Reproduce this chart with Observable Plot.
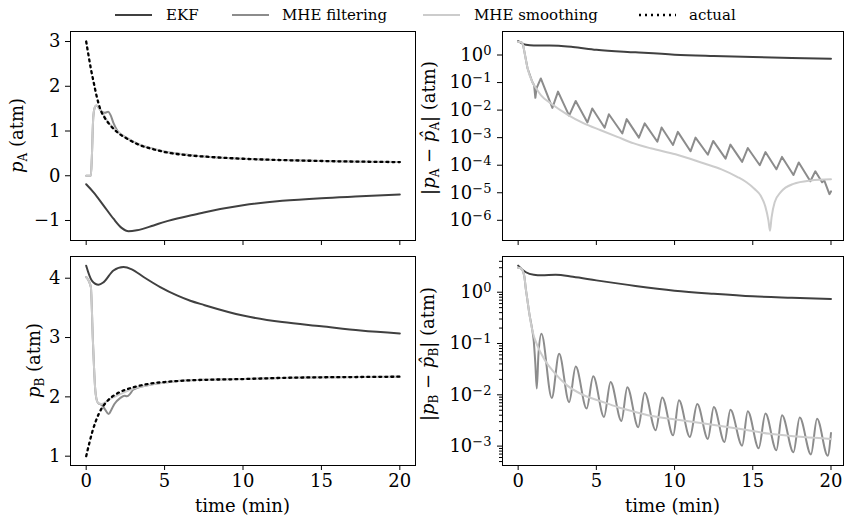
<!DOCTYPE html>
<html><head><meta charset="utf-8">
<script src="https://cdn.jsdelivr.net/npm/d3@7"></script>
<script src="https://cdn.jsdelivr.net/npm/@observablehq/plot@0.6"></script>
<style>
html,body{margin:0;padding:0;background:#fff;}
#root{position:relative;width:845px;height:517px;overflow:hidden;background:#fff;font-family:"DejaVu Serif",serif;}
</style></head>
<body><div id="root"></div>
<script>
// ---------- legend / series names ----------
const seriesNames = ["EKF", "MHE filtering", "MHE smoothing", "actual"];
const xTicks = [0, 5, 10, 15, 20];
const pATicks = [-1, 0, 1, 2, 3];
const pBTicks = [1, 2, 3, 4];
const eATicks = [1e0, 1e-1, 1e-2, 1e-3, 1e-4, 1e-5, 1e-6];
const eBTicks = [1e0, 1e-1, 1e-2, 1e-3];

// ---------- p_A (top left) ----------
const pA_actual_t = [0, 0.15, 0.3, 0.47, 0.68, 0.89, 1.21, 1.53, 1.96, 2.6, 3.45, 4.3, 5.15, 6.43, 7.5, 10, 12.5, 15, 17.5, 20];
const pA_actual   = [3.0, 2.69, 2.39, 2.10, 1.76, 1.50, 1.28, 1.13, 0.98, 0.83, 0.68, 0.59, 0.52, 0.46, 0.43, 0.38, 0.35, 0.33, 0.315, 0.305];
const pA_ekf_t = [0, 0.47, 1.1, 1.74, 2.28, 2.7, 3.23, 4.3, 5, 6.64, 7.5, 10, 12.5, 15, 17.5, 20];
const pA_ekf   = [-0.19, -0.37, -0.66, -0.96, -1.17, -1.24, -1.22, -1.11, -1.03, -0.89, -0.82, -0.66, -0.56, -0.5, -0.46, -0.42];
const pA_smooth_t = [0, 0.3, 0.36, 0.45, 0.55, 0.65, 0.8, 1.0, 1.3, 1.6, 2.0, 2.6, 3.45, 4.3, 5.15, 6.43, 7.5, 10, 12.5, 15, 17.5, 20];
const pA_smooth   = [0, 0, 0.4, 1.3, 1.53, 1.57, 1.52, 1.43, 1.25, 1.12, 0.99, 0.84, 0.69, 0.6, 0.53, 0.47, 0.43, 0.38, 0.35, 0.33, 0.315, 0.305];
const pA_filt_t = [0, 0.3, 0.36, 0.45, 0.55, 0.65, 0.8, 1.0, 1.2, 1.4, 1.55, 1.75, 2.0, 2.6, 3.45, 4.3, 5.15, 6.43, 7.5, 10, 12.5, 15, 17.5, 20];
const pA_filt   = [0, 0, 0.4, 1.3, 1.53, 1.57, 1.52, 1.43, 1.41, 1.43, 1.36, 1.17, 1.0, 0.84, 0.69, 0.6, 0.53, 0.47, 0.43, 0.38, 0.35, 0.33, 0.315, 0.305];

// ---------- p_B (bottom left) ----------
const pB_actual_t = [0, 0.2, 0.4, 0.6, 0.8, 1.0, 1.25, 1.5, 2, 2.5, 3, 4, 5, 6, 8, 10, 12.5, 15, 17.5, 20];
const pB_actual   = [1.0, 1.22, 1.42, 1.58, 1.71, 1.81, 1.9, 1.97, 2.06, 2.12, 2.16, 2.22, 2.25, 2.27, 2.29, 2.30, 2.32, 2.33, 2.335, 2.34];
const pB_ekf_t = [0, 0.36, 0.79, 1.1, 1.74, 2.38, 2.91, 3.66, 4.72, 5.79, 6.64, 7.5, 10, 12.5, 15, 17.5, 20];
const pB_ekf   = [4.21, 3.96, 3.89, 3.93, 4.13, 4.19, 4.15, 4.02, 3.85, 3.71, 3.62, 3.55, 3.37, 3.26, 3.19, 3.12, 3.07];
const pB_smooth_t = [0, 0.3, 0.36, 0.42, 0.5, 0.57, 0.65, 0.75, 1.0, 1.5, 2.2, 3.0, 4, 5, 6, 8, 10, 12.5, 15, 17.5, 20];
const pB_smooth   = [4.02, 3.85, 3.5, 3.0, 2.5, 2.15, 1.97, 1.9, 1.88, 1.96, 2.05, 2.14, 2.2, 2.24, 2.27, 2.29, 2.30, 2.32, 2.33, 2.335, 2.34];
const pB_filt_t = [0, 0.3, 0.36, 0.42, 0.5, 0.57, 0.65, 0.75, 1.0, 1.2, 1.43, 1.6, 1.8, 2.17, 2.45, 2.6, 2.8, 3.0, 4, 5, 6, 8, 10, 12.5, 15, 17.5, 20];
const pB_filt   = [4.02, 3.85, 3.5, 3.0, 2.5, 2.15, 1.97, 1.9, 1.86, 1.79, 1.71, 1.78, 1.88, 1.98, 2.02, 2.01, 2.05, 2.12, 2.2, 2.24, 2.27, 2.29, 2.30, 2.32, 2.33, 2.335, 2.34];

// ---------- |p_A - p̂_A| (top right) ----------
const eA_ekf_t = [0, 0.5, 1.0, 1.5, 2.0, 2.6, 3.5, 5, 7.5, 10, 12.5, 15, 17.5, 20];
const eA_ekf   = [3.2, 2.35, 2.2, 2.2, 2.2, 2.15, 1.95, 1.55, 1.25, 1.03, 0.92, 0.84, 0.78, 0.73];
const eA_smooth_t = [0, 0.2, 0.3, 0.38, 0.6, 0.9, 1.2, 1.45, 2.1, 3.15, 4.2, 5.28, 6.34, 7.4, 8.47, 10.06, 11.9, 13.0, 14.0, 14.6, 15.1, 15.5, 15.8, 16.0, 16.1, 16.2, 16.4, 16.8, 17.6, 18.7, 20];
const eA_smooth   = [3.0, 2.9, 2.5, 1.5, 0.33, 0.107, 0.056, 0.035, 0.0174, 0.0069, 0.0033, 0.00186, 0.00107, 6.2e-4, 4.1e-4, 2.5e-4, 1.15e-4, 7.1e-5, 3.8e-5, 2.4e-5, 1.4e-5, 7.9e-6, 3.2e-6, 1.0e-6, 4.2e-7, 1.26e-6, 4.5e-6, 1.07e-5, 2.1e-5, 2.8e-5, 3.1e-5];
const eA_filt_t = [0, 0.2, 0.3, 0.38, 0.6, 0.9, 1.02, 1.1, 1.18, 1.45, 2.19, 2.55, 3.26, 3.68, 4.43, 4.74, 5.53, 5.8, 6.66, 6.94, 7.72, 8.09, 8.9, 9.17, 9.9, 10.21, 11.02, 11.34, 12.13, 12.47, 13.26, 13.57, 14.32, 14.68, 15.45, 15.81, 16.51, 16.87, 17.6, 17.94, 18.68, 19.0, 19.43, 19.57, 19.9, 20];
const eA_filt   = [3.0, 2.9, 2.5, 1.5, 0.33, 0.107, 0.08, 0.028, 0.063, 0.141, 0.012, 0.047, 0.0063, 0.0214, 0.00355, 0.0115, 0.0023, 0.0071, 0.00141, 0.0047, 0.001, 0.0033, 7.1e-4, 0.00234, 5.4e-4, 0.00162, 3.2e-4, 0.001, 2.4e-4, 7.6e-4, 1.74e-4, 5.6e-4, 1.32e-4, 4.2e-4, 1.0e-4, 3.0e-4, 7.1e-5, 2.0e-4, 4.4e-5, 1.26e-4, 2.6e-5, 6.0e-5, 2.4e-5, 2.8e-5, 8.9e-6, 1.12e-5];

// ---------- |p_B - p̂_B| (bottom right) ----------
const eB_ekf_t = [0, 0.5, 1.0, 1.5, 2.4, 3.5, 5, 7.5, 10, 12.5, 15, 17.5, 20];
const eB_ekf   = [3.3, 2.45, 2.19, 2.14, 2.19, 2.0, 1.7, 1.32, 1.07, 0.93, 0.83, 0.78, 0.74];
const eB_smooth_t = [0, 0.2, 0.3, 0.4, 0.49, 0.6, 0.7, 0.91, 1.23, 1.66, 2.3, 3.15, 4.2, 5.28, 6.34, 7.4, 8.47, 10.06, 11.9, 14.0, 16.1, 18.25, 20];
const eB_smooth   = [3.0, 2.9, 2.6, 2.0, 1.16, 0.68, 0.41, 0.178, 0.091, 0.05, 0.0275, 0.0151, 0.0098, 0.0075, 0.0058, 0.0047, 0.0039, 0.0033, 0.00275, 0.0022, 0.00174, 0.0015, 0.00138];
const eB_filt_t = [0, 0.2, 0.3, 0.4, 0.49, 0.6, 0.7, 0.91, 1.0, 1.1, 1.19, 1.3, 1.49, 2.15, 2.62, 3.26, 3.68, 4.38, 4.8, 5.49, 5.91, 6.6, 6.98, 7.68, 8.09, 8.79, 9.21, 9.91, 10.28, 10.98, 11.45, 12.13, 12.51, 13.19, 13.57, 14.32, 14.68, 15.38, 15.81, 16.51, 16.87, 17.6, 18.0, 18.72, 19.11, 19.79, 20];
const eB_filt   = [3.0, 2.9, 2.6, 2.0, 1.16, 0.68, 0.41, 0.178, 0.11, 0.04, 0.0132, 0.063, 0.155, 0.0087, 0.063, 0.0072, 0.0355, 0.0054, 0.0229, 0.0037, 0.0178, 0.0031, 0.0141, 0.00234, 0.011, 0.00204, 0.0089, 0.00162, 0.0078, 0.00151, 0.0066, 0.00138, 0.0058, 0.0012, 0.0051, 0.00102, 0.0048, 0.00091, 0.0043, 0.00083, 0.004, 0.00076, 0.0036, 0.00069, 0.0034, 0.00065, 0.0018];

// ---------- styling ----------
const FONT = "DejaVu Serif";
const COLORS = {"EKF": "#404040", "MHE filtering": "#8c8c8c", "MHE smoothing": "#cccccc", "actual": "#000000"};
const DOTS = "2,4";
const root = document.getElementById("root");

const rows = (t, v) => t.map((x, i) => ({t: x, v: v[i]}));
const logFmt = d => "10^" + String(Math.round(Math.log10(d))).replace("-", "\u2212");
const linFmt = d => d < 0 ? "\u2212" + Math.abs(d) : String(d);

function lineMark(t, v, name, curve) {
  const o = {x: "t", y: "v", stroke: COLORS[name], strokeWidth: 2, curve: curve || "monotone-x"};
  if (name === "actual") { o.strokeDasharray = DOTS; o.strokeWidth = 2.3; }
  return Plot.line(rows(t, v), o);
}

function panel(o) {
  const marks = [
    Plot.axisX({ticks: xTicks, tickSize: 5, tickPadding: 4, tickFormat: o.xLabels ? d => String(d) : () => "", label: null}),
    Plot.axisY({ticks: o.yTicks, tickSize: 5, tickPadding: o.tickPad, tickFormat: o.yFmt, label: null}),
  ];
  if (o.minor) marks.push(Plot.axisY({ticks: o.minor, tickSize: 3, tickFormat: () => "", label: null}));
  marks.push(...o.lines);
  marks.push(Plot.frame({stroke: "#000", strokeWidth: 1}));
  const svg = Plot.plot({
    width: o.width, height: o.height,
    marginLeft: o.ml, marginRight: o.mr, marginTop: o.mt, marginBottom: o.mb,
    style: {fontFamily: FONT, fontSize: "18px", color: "#000", background: "transparent", overflow: "visible"},
    x: {domain: o.xDomain, label: null},
    y: {type: o.yType, domain: o.yDomain, label: null},
    marks
  });
  svg.style.position = "absolute";
  svg.style.left = o.left + "px";
  svg.style.top = o.top + "px";
  const s = d3.select(svg);
  // superscript exponents on log tick labels
  s.selectAll("text").each(function () {
    const t = this.textContent;
    if (t.includes("^")) {
      const [b, e] = t.split("^");
      const el = d3.select(this);
      el.text(null);
      el.append("tspan").text(b);
      el.append("tspan").attr("font-size", 13).attr("dy", "-0.45em").text(e);
    }
  });
  // y label
  const lab = s.append("text")
    .attr("transform", `translate(${o.ylx},${o.yly}) rotate(-90)`)
    .attr("text-anchor", "middle").attr("font-size", 18).attr("fill", "#000")
    .attr("font-family", FONT);
  for (const p of o.ylabel) {
    const ts = lab.append("tspan").text(p.text);
    if (p.italic) ts.attr("font-style", "italic");
    if (p.sub) ts.attr("font-size", 12).attr("dy", 4);
    if (p.after) ts.attr("dy", -4);
  }
  if (o.xLabels) {
    s.append("text").attr("x", o.xlx).attr("y", o.xly).attr("text-anchor", "middle")
      .attr("font-size", 18).attr("font-family", FONT).attr("fill", "#000").text("time (min)");
  }
  root.appendChild(svg);
}

// top left
panel({left: 0, top: 0, width: 420, height: 250, ml: 70, mr: 5, mt: 31, mb: 10,
  xDomain: [-1, 21], yType: "linear", yDomain: [-1.447, 3.224], yTicks: pATicks, yFmt: linFmt, tickPad: 5,
  lines: [
    lineMark(pA_ekf_t, pA_ekf, "EKF"),
    lineMark(pA_filt_t, pA_filt, "MHE filtering"),
    lineMark(pA_smooth_t, pA_smooth, "MHE smoothing"),
    lineMark(pA_actual_t, pA_actual, "actual")
  ],
  ylx: 23, yly: 135.5,
  ylabel: [{text: "p", italic: true}, {text: "A", sub: true}, {text: " (atm)", after: true}]
});

// top right
panel({left: 420, top: 0, width: 425, height: 250, ml: 82, mr: 2, mt: 31, mb: 10,
  xDomain: [-1, 20.8], yType: "log", yDomain: [Math.pow(10, -6.733), Math.pow(10, 0.853)], yTicks: eATicks, yFmt: logFmt, tickPad: 6,
  lines: [
    lineMark(eA_ekf_t, eA_ekf, "EKF"),
    lineMark(eA_filt_t, eA_filt, "MHE filtering", "linear"),
    lineMark(eA_smooth_t, eA_smooth, "MHE smoothing")
  ],
  ylx: 15, yly: 128,
  ylabel: [{text: "|"}, {text: "p", italic: true}, {text: "A", sub: true}, {text: " \u2212 ", after: true}, {text: "p\u0302", italic: true}, {text: "A", sub: true}, {text: "| (atm)", after: true}]
});

// bottom left
panel({left: 0, top: 250, width: 420, height: 267, ml: 70, mr: 5, mt: 6, mb: 52,
  xDomain: [-1, 21], yType: "linear", yDomain: [0.843, 4.366], yTicks: pBTicks, yFmt: linFmt, tickPad: 5, xLabels: true,
  lines: [
    lineMark(pB_ekf_t, pB_ekf, "EKF"),
    lineMark(pB_filt_t, pB_filt, "MHE filtering"),
    lineMark(pB_smooth_t, pB_smooth, "MHE smoothing"),
    lineMark(pB_actual_t, pB_actual, "actual")
  ],
  ylx: 40, yly: 110.5, xlx: 242.5, xly: 262,
  ylabel: [{text: "p", italic: true}, {text: "B", sub: true}, {text: " (atm)", after: true}]
});

// bottom right
const minorB = [];
for (const e of [0, -1, -2, -3, -4]) for (let m = 2; m <= 9; m++) minorB.push(m * Math.pow(10, e));
panel({left: 420, top: 250, width: 425, height: 267, ml: 82, mr: 2, mt: 6, mb: 52,
  xDomain: [-1, 20.8], yType: "log", yDomain: [Math.pow(10, -3.378), Math.pow(10, 0.696)], yTicks: eBTicks, yFmt: logFmt, tickPad: 6, xLabels: true,
  minor: minorB.filter(v => v > Math.pow(10, -3.378) && v < Math.pow(10, 0.696)),
  lines: [
    lineMark(eB_ekf_t, eB_ekf, "EKF"),
    lineMark(eB_filt_t, eB_filt, "MHE filtering"),
    lineMark(eB_smooth_t, eB_smooth, "MHE smoothing")
  ],
  ylx: 14, yly: 104, xlx: 252.5, xly: 262,
  ylabel: [{text: "|"}, {text: "p", italic: true}, {text: "B", sub: true}, {text: " \u2212 ", after: true}, {text: "p\u0302", italic: true}, {text: "B", sub: true}, {text: "| (atm)", after: true}]
});

// legend
const legendPos = [[115, 166], [232, 282], [423, 474], [639, 689]];
const leg = d3.select(root).append("svg").attr("width", 845).attr("height", 30)
  .style("position", "absolute").style("left", "0px").style("top", "0px");
seriesNames.forEach((n, i) => {
  const [lx, tx] = legendPos[i];
  const ln = leg.append("line").attr("x1", lx).attr("x2", lx + 37).attr("y1", 15).attr("y2", 15)
    .attr("stroke", COLORS[n]).attr("stroke-width", n === "actual" ? 2.3 : 2);
  if (n === "actual") ln.attr("stroke-dasharray", DOTS);
  leg.append("text").attr("x", tx).attr("y", 20).attr("font-family", FONT).attr("font-size", 15).attr("fill", "#000").text(n);
});
</script></body></html>
